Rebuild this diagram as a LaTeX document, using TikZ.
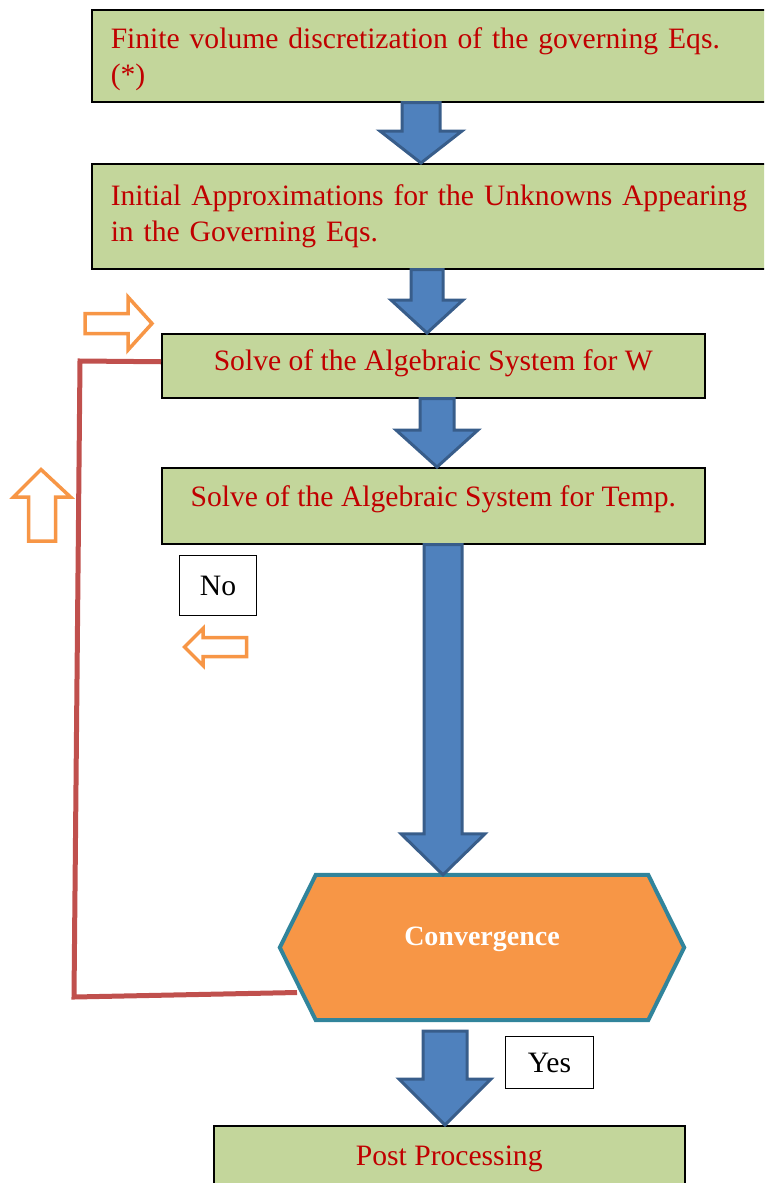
\documentclass[tikz,border=0pt]{standalone}
\usepackage{fontspec}
\setmainfont{Liberation Serif}
\usetikzlibrary{calc,backgrounds}

\definecolor{boxgreen}{HTML}{C3D69B}
\definecolor{textred}{HTML}{C00000}
\definecolor{arrowblue}{HTML}{4F81BD}
\definecolor{arrowedge}{HTML}{385D8A}
\definecolor{hexorange}{HTML}{F79646}
\definecolor{hexedge}{HTML}{31849B}
\definecolor{loopred}{HTML}{C0504D}

% block arrow: from, to, x, half shaft, half head, head length
\newcommand{\flowarrow}[6]{%
  \draw[blockarrow] let \p1=(#1), \p2=(#2) in
    (#3pt-#4pt,\y1) -- (#3pt-#4pt,\y2+#6pt) -- (#3pt-#5pt,\y2+#6pt) -- (#3pt,\y2)
    -- (#3pt+#5pt,\y2+#6pt) -- (#3pt+#4pt,\y2+#6pt) -- (#3pt+#4pt,\y1) -- cycle;}

\begin{document}
\begin{tikzpicture}[x=1pt,y=-1pt,
  box/.style={draw=black,line width=1.5pt,fill=boxgreen,text=textred,
    font=\fontsize{29.6}{36.5}\selectfont,inner sep=0pt},
  topbox/.style={box,anchor=north west,text width=660pt,align=left,inner xsep=19pt},
  midbox/.style={box,anchor=north west,align=center},
  answer/.style={draw=black,line width=1pt,fill=white,anchor=north west,
    font=\fontsize{29.6}{35}\selectfont,inner sep=0pt},
  blockarrow/.style={fill=arrowblue,draw=arrowedge,line width=3pt},
  hollowarrow/.style={draw=hexorange,line width=3.5pt,fill=white},
  loopline/.style={draw=loopred,line width=5pt},
  hexline/.style={fill=hexorange,draw=hexedge,line width=4pt}
]
\useasboundingbox (0,0) rectangle (764,1183);
\clip (0,0) rectangle (764,1183);

\node[topbox,minimum height=92pt] (disc) at (91,9)
  {\rule{0pt}{28pt}Finite volume discretization of the governing Eqs.\\(*)};
\node[topbox,minimum height=105pt] (init) at (91,163)
  {Initial Approximations for the Unknowns Appearing\\in the Governing Eqs.};
\node[midbox,minimum width=543pt,minimum height=64pt,text height=20pt,text depth=10pt]
  (solvew) at (161,333) {Solve of the Algebraic System for W};
\node[midbox,minimum width=543pt,minimum height=76pt,text height=20pt,text depth=18pt]
  (solvet) at (161,467) {Solve of the Algebraic System for Temp.};
\node[box,anchor=north west,minimum width=471pt,minimum height=66pt] (post) at (213,1125)
  {Post Processing};

% decision
\node[minimum width=332pt,minimum height=145pt,text=white,text height=20pt,text depth=25pt,
  font=\bfseries\fontsize{28}{32}\selectfont] (conv) at (482,947.5) {Convergence};
\begin{pgfonlayer}{background}
  \draw[hexline] ($(conv.west)+(-36,0)$) -- (conv.north west) -- (conv.north east)
    -- ($(conv.east)+(36,0)$) -- (conv.south east) -- (conv.south west) -- cycle;
\end{pgfonlayer}

\node[answer,minimum width=77pt,minimum height=60pt] (no) at (179,555) {No};
\node[answer,minimum width=88pt,minimum height=52pt] (yes) at (505,1036) {Yes};

% flow
\flowarrow{disc.south}{init.north}{421}{19}{41}{32}
\flowarrow{init.south}{solvew.north}{427}{16}{36}{33}
\flowarrow{solvew.south}{solvet.north}{437}{17}{41}{37}
\flowarrow{solvet.south}{conv.north}{443}{19}{42}{41}
\flowarrow{$(conv.south)+(0,11)$}{post.north}{445}{22}{46}{46}

% loop back
\coordinate (loopend) at (297,992.5);
\draw[loopline] ($(solvew.west)+(0,-4)$) -- (80,361) -- (74,997) -- (loopend);

\draw[hollowarrow] (85,313.5) -- (128,313.5) -- (128,297) -- (152,323.5)
  -- (128,350) -- (128,333.5) -- (85,333.5) -- cycle;
\draw[hollowarrow] (28.5,541) -- (28.5,497) -- (13.5,497) -- (41,469.5)
  -- (70.5,497) -- (55.5,497) -- (55.5,541) -- cycle;
\draw[hollowarrow] (246.5,637.5) -- (203,637.5) -- (203,628.5) -- (184.5,647)
  -- (203,665.5) -- (203,656.5) -- (246.5,656.5) -- cycle;
\end{tikzpicture}
\end{document}
